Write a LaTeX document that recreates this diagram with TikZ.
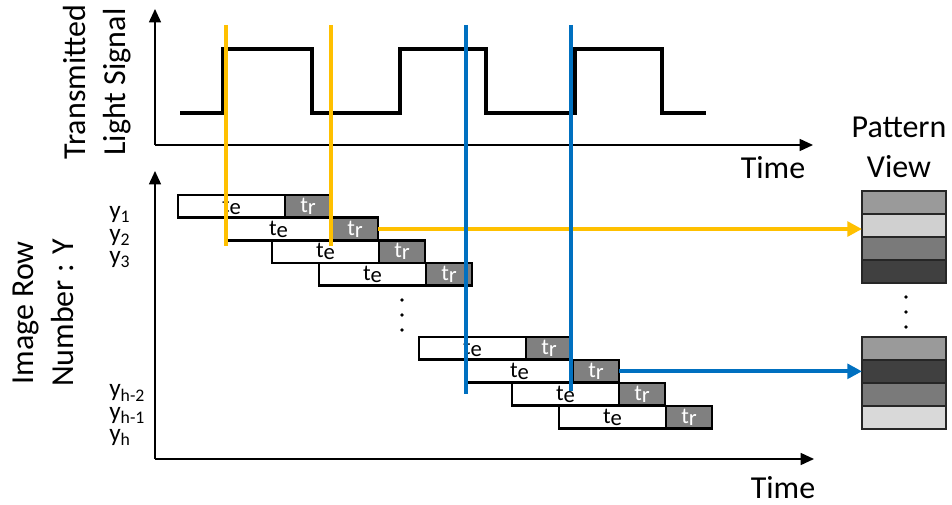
\documentclass[tikz,border=0pt]{standalone}
\usepackage{fontspec}
\setmainfont{Carlito}
\usetikzlibrary{arrows.meta, positioning}

\definecolor{gold}{HTML}{FFC000}
\definecolor{ocean}{HTML}{0070C0}
\definecolor{trgray}{HTML}{808080}

\tikzset{
  tebox/.style={draw, line width=2pt, fill=white, inner sep=0pt, outer sep=0pt,
    minimum width=80.25pt, minimum height=17pt, font=\fontsize{17}{17}\selectfont},
  trbox/.style={tebox, fill=trgray, text=white, minimum width=34.5pt},
  patbox/.style={draw=black!85, line width=1pt, inner sep=0pt, outer sep=0pt,
    minimum width=63pt, minimum height=17.25pt},
  axis/.style={line width=1.1pt, -{Triangle[length=10pt, width=9pt]}},
  bigtext/.style={font=\fontsize{24}{30}\selectfont, align=center},
  rowtext/.style={font=\fontsize{19}{19}\selectfont, anchor=base west, inner sep=0pt},
  mark line/.style={line width=2.8pt},
  dotty/.style={circle, fill, inner sep=0pt, minimum size=2.8pt}
}

\begin{document}
\begin{tikzpicture}[x=0.75pt, y=-0.75pt]
    \useasboundingbox (0,0) rectangle (952,505);

    % Axes
    \coordinate (o1) at (155,145);
    \coordinate (o2) at (155,459);
    \draw[axis] (o1) -- (155,9);
    \draw[axis] (o1) -- (813,145);
    \draw[axis] (o2) -- (155,171);
    \draw[axis] (o2) -- (814,459);

    % Axis labels
    \node[bigtext, rotate=90] (sig) at (97,82) {Transmitted\\Light Signal};
    \node[bigtext, rotate=90] (rowlab) at (43,313) {Image Row\\Number : Y};
    \node[bigtext, anchor=base] (time1) at (773,179) {Time};
    \node[bigtext, anchor=base] (time2) at (783,498) {Time};
    \node[bigtext] (pview) at (899,147) {Pattern\\View};

    % Transmitted light signal
    \draw[line width=2.6pt, line join=miter] (180,113) -- (223,113) -- (223,49) -- (312,49)
        -- (312,113) -- (400,113) -- (400,49) -- (486,49) -- (486,113) -- (575,113)
        -- (575,49) -- (662,49) -- (662,113) -- (706,113);

    % Exposure and readout of each row
    \foreach \i/\x/\y in {1/178/195, 2/225/217.7, 3/272/240.3, 4/319/263,
                          5/419/337, 6/466/360, 7/512/383, 8/559/406} {
        \node[tebox, anchor=north west] (te\i) at (\x,\y) {t\raisebox{-1.5pt}{e}};
        \node[trbox, right=0pt of te\i] (tr\i) {t\raisebox{-1.5pt}{r}};
    }

    % Row names
    \node[rowtext] (y1) at (109,219) {y\textsubscript{1}};
    \node[rowtext] (y2) at (109,242) {y\textsubscript{2}};
    \node[rowtext] (y3) at (109,264) {y\textsubscript{3}};
    \node[rowtext] (yh2) at (109,397) {y\textsubscript{h-2}};
    \node[rowtext] (yh1) at (109,419) {y\textsubscript{h-1}};
    \node[rowtext] (yh) at (109,441) {y\textsubscript{h}};

    % Pattern view
    \foreach \i/\c in {1/9A9A9A, 2/D0D0D0, 3/7A7A7A, 4/404040} {
        \definecolor{pc}{HTML}{\c}
        \node[patbox, fill=pc, anchor=north west] (pa\i) at (862,{191+23*(\i-1)}) {};
    }
    \foreach \i/\c in {1/9A9A9A, 2/404040, 3/7A7A7A, 4/D9D9D9} {
        \definecolor{pc}{HTML}{\c}
        \node[patbox, fill=pc, anchor=north west] (pb\i) at (862,{337+23*(\i-1)}) {};
    }

    % Dots
    \foreach \y in {300,315,330} {
        \node[dotty] at (402,\y) {};
        \node[dotty] at (906,\y-3) {};
    }

    % Rows to pattern
    \draw[gold, mark line, -{Triangle[length=11pt, width=11pt]}]
        (tr2.east) -- (tr2.east -| pa2.west);
    \draw[ocean, mark line, -{Triangle[length=11pt, width=11pt]}]
        (tr6.east) -- (tr6.east -| pb2.west);

    % Readout instants
    \draw[gold, mark line] (226,25) -- (226,246);
    \draw[gold, mark line] (331,25) -- (331,246);
    \draw[ocean, mark line] (466,25) -- (466,394);
    \draw[ocean, mark line] (571,25) -- (571,391);
\end{tikzpicture}
\end{document}
